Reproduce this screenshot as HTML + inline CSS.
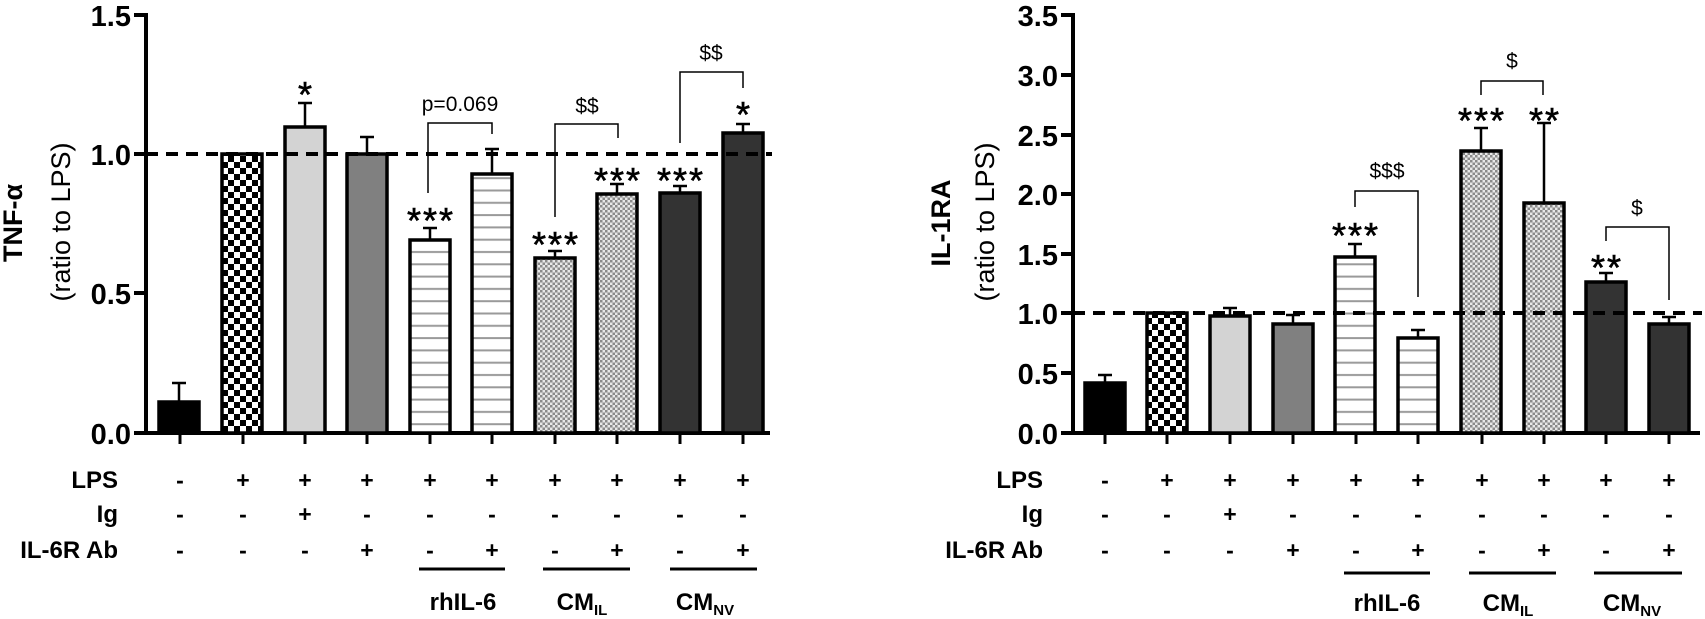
<!DOCTYPE html>
<html><head><meta charset="utf-8"><style>
html,body{margin:0;padding:0;background:#fff;}
svg{display:block;}
text{font-family:"Liberation Sans",Arial,sans-serif;}
</style></head><body>
<svg width="1705" height="619" viewBox="0 0 1705 619" xmlns="http://www.w3.org/2000/svg">
<defs>
<pattern id="chk" width="12" height="12" patternUnits="userSpaceOnUse">
<rect width="12" height="12" fill="#fff"/><rect width="6" height="6" fill="#000"/><rect x="6" y="6" width="6" height="6" fill="#000"/>
</pattern>
<pattern id="fine" width="5" height="5" patternUnits="userSpaceOnUse">
<rect width="5" height="5" fill="#e8e8e8"/><rect width="2.5" height="2.5" fill="#8a8a8a"/><rect x="2.5" y="2.5" width="2.5" height="2.5" fill="#8a8a8a"/>
</pattern>
<pattern id="hl" width="10" height="12.3" patternUnits="userSpaceOnUse">
<rect width="10" height="12.3" fill="#fff"/><rect y="5" width="10" height="2" fill="#9a9a9a"/>
</pattern>
</defs>

<!-- ============ LEFT CHART ============ -->
<g font-weight="bold" font-size="29" text-anchor="end" fill="#000">
<text x="131" y="26">1.5</text>
<text x="131" y="165">1.0</text>
<text x="131" y="304">0.5</text>
<text x="131" y="444">0.0</text>
</g>
<g stroke="#000" stroke-width="4">
<line x1="146" y1="13" x2="146" y2="435"/>
<line x1="134" y1="15" x2="146" y2="15"/>
<line x1="134" y1="154" x2="146" y2="154"/>
<line x1="134" y1="293" x2="146" y2="293"/>
<line x1="134" y1="433" x2="770" y2="433"/>
</g>
<text transform="translate(22,223) rotate(-90)" text-anchor="middle" font-weight="bold" font-size="27">TNF-α</text>
<text transform="translate(70,222) rotate(-90)" text-anchor="middle" font-size="27">(ratio to LPS)</text>

<g stroke="#000" stroke-width="3.5">
<rect x="159" y="402" width="40" height="31" fill="#000"/>
<rect x="222" y="154" width="40" height="279" fill="url(#chk)"/>
<rect x="285" y="127" width="40" height="306" fill="#d3d3d3"/>
<rect x="347" y="154" width="40" height="279" fill="#808080"/>
<rect x="410" y="240" width="40" height="193" fill="url(#hl)"/>
<rect x="472" y="174" width="40" height="259" fill="url(#hl)"/>
<rect x="535" y="258" width="40" height="175" fill="url(#fine)"/>
<rect x="597" y="194" width="40" height="239" fill="url(#fine)"/>
<rect x="660" y="193" width="40" height="240" fill="#333"/>
<rect x="723" y="133" width="40" height="300" fill="#333"/>
</g>
<g stroke="#000" stroke-width="2.5">
<path d="M179 402V383M172 383H186"/>
<path d="M305 127V103M298 103H312"/>
<path d="M367 154V137M360 137H374"/>
<path d="M430 240V228M423 228H437"/>
<path d="M492 174V149M485 149H499"/>
<path d="M555 258V251M548 251H562"/>
<path d="M617 194V184M610 184H624"/>
<path d="M680 193V186M673 186H687"/>
<path d="M743 133V124M736 124H750"/>
</g>
<line x1="146" y1="154" x2="772" y2="154" stroke="#000" stroke-width="4" stroke-dasharray="12,8"/>
<g fill="none" stroke="#000" stroke-width="1.5">
<path d="M428 193V123H492V134"/>
<path d="M555 217V124H618V138"/>
<path d="M680 143V72H743V88"/>
</g>
<g font-size="36" text-anchor="middle" letter-spacing="2" stroke="#000" stroke-width="0.6">
<text x="306" y="107">*</text>
<text x="431" y="233">***</text>
<text x="556" y="257">***</text>
<text x="618" y="193">***</text>
<text x="681" y="193">***</text>
<text x="744" y="127">*</text>
</g>
<g font-size="21" text-anchor="middle">
<text x="460" y="111">p=0.069</text>
<text x="587" y="113">$$</text>
<text x="711" y="60">$$</text>
</g>
<g stroke="#000" stroke-width="3">
<path d="M180 433v11M243 433v11M305 433v11M367 433v11M430 433v11M492 433v11M555 433v11M617 433v11M680 433v11M743 433v11"/>
</g>
<g font-weight="bold" font-size="24" text-anchor="end">
<text x="118" y="488">LPS</text>
<text x="118" y="522">Ig</text>
<text x="118" y="558">IL-6R Ab</text>
</g>
<g font-weight="bold" font-size="23" text-anchor="middle">
<text x="180" y="488">-</text><text x="243" y="488">+</text><text x="305" y="488">+</text><text x="367" y="488">+</text><text x="430" y="488">+</text><text x="492" y="488">+</text><text x="555" y="488">+</text><text x="617" y="488">+</text><text x="680" y="488">+</text><text x="743" y="488">+</text>
<text x="180" y="522">-</text><text x="243" y="522">-</text><text x="305" y="522">+</text><text x="367" y="522">-</text><text x="430" y="522">-</text><text x="492" y="522">-</text><text x="555" y="522">-</text><text x="617" y="522">-</text><text x="680" y="522">-</text><text x="743" y="522">-</text>
<text x="180" y="558">-</text><text x="243" y="558">-</text><text x="305" y="558">-</text><text x="367" y="558">+</text><text x="430" y="558">-</text><text x="492" y="558">+</text><text x="555" y="558">-</text><text x="617" y="558">+</text><text x="680" y="558">-</text><text x="743" y="558">+</text>
</g>
<g stroke="#000" stroke-width="3">
<line x1="419" y1="569" x2="505" y2="569"/>
<line x1="543" y1="569" x2="630" y2="569"/>
<line x1="670" y1="569" x2="757" y2="569"/>
</g>
<g font-weight="bold" font-size="24" text-anchor="middle">
<text x="463" y="610">rhIL-6</text>
<text x="582" y="610">CM<tspan font-size="15" dy="5">IL</tspan></text>
<text x="705" y="610">CM<tspan font-size="15" dy="5">NV</tspan></text>
</g>

<!-- ============ RIGHT CHART ============ -->
<g font-weight="bold" font-size="29" text-anchor="end">
<text x="1058" y="26">3.5</text>
<text x="1058" y="86">3.0</text>
<text x="1058" y="146">2.5</text>
<text x="1058" y="205">2.0</text>
<text x="1058" y="265">1.5</text>
<text x="1058" y="324">1.0</text>
<text x="1058" y="384">0.5</text>
<text x="1058" y="444">0.0</text>
</g>
<g stroke="#000" stroke-width="4">
<line x1="1073" y1="13" x2="1073" y2="435"/>
<path d="M1061 15H1073M1061 75H1073M1061 135H1073M1061 194H1073M1061 254H1073M1061 313H1073M1061 373H1073"/>
<line x1="1061" y1="433" x2="1700" y2="433"/>
</g>
<text transform="translate(950,223) rotate(-90)" text-anchor="middle" font-weight="bold" font-size="27">IL-1RA</text>
<text transform="translate(994,222) rotate(-90)" text-anchor="middle" font-size="27">(ratio to LPS)</text>

<g stroke="#000" stroke-width="3.5">
<rect x="1085" y="383" width="40" height="50" fill="#000"/>
<rect x="1147" y="313" width="40" height="120" fill="url(#chk)"/>
<rect x="1210" y="316" width="40" height="117" fill="#d3d3d3"/>
<rect x="1273" y="324" width="40" height="109" fill="#808080"/>
<rect x="1335" y="257" width="40" height="176" fill="url(#hl)"/>
<rect x="1398" y="338" width="40" height="95" fill="url(#hl)"/>
<rect x="1461" y="151" width="40" height="282" fill="url(#fine)"/>
<rect x="1524" y="203" width="40" height="230" fill="url(#fine)"/>
<rect x="1586" y="282" width="40" height="151" fill="#333"/>
<rect x="1649" y="324" width="40" height="109" fill="#333"/>
</g>
<g stroke="#000" stroke-width="2.5">
<path d="M1105 383V375M1098 375H1112"/>
<path d="M1230 316V308M1223 308H1237"/>
<path d="M1293 324V315M1286 315H1300"/>
<path d="M1355 257V244M1348 244H1362"/>
<path d="M1418 338V330M1411 330H1425"/>
<path d="M1481 151V128M1474 128H1488"/>
<path d="M1544 203V123M1537 123H1551"/>
<path d="M1606 282V273M1599 273H1613"/>
<path d="M1669 324V317M1662 317H1676"/>
</g>
<line x1="1073" y1="313" x2="1702" y2="313" stroke="#000" stroke-width="4" stroke-dasharray="12,8"/>
<g fill="none" stroke="#000" stroke-width="1.5">
<path d="M1355 207V191H1418V297"/>
<path d="M1481 95V81H1543V95"/>
<path d="M1606 241V227H1669V300"/>
</g>
<g font-size="36" text-anchor="middle" letter-spacing="2" stroke="#000" stroke-width="0.6">
<text x="1356" y="248">***</text>
<text x="1482" y="133">***</text>
<text x="1545" y="133">**</text>
<text x="1607" y="280">**</text>
</g>
<g font-size="21" text-anchor="middle">
<text x="1387" y="178">$$$</text>
<text x="1512" y="68">$</text>
<text x="1637" y="215">$</text>
</g>
<g stroke="#000" stroke-width="3">
<path d="M1105 433v11M1167 433v11M1230 433v11M1293 433v11M1356 433v11M1418 433v11M1482 433v11M1544 433v11M1606 433v11M1669 433v11"/>
</g>
<g font-weight="bold" font-size="24" text-anchor="end">
<text x="1043" y="488">LPS</text>
<text x="1043" y="522">Ig</text>
<text x="1043" y="558">IL-6R Ab</text>
</g>
<g font-weight="bold" font-size="23" text-anchor="middle">
<text x="1105" y="488">-</text><text x="1167" y="488">+</text><text x="1230" y="488">+</text><text x="1293" y="488">+</text><text x="1356" y="488">+</text><text x="1418" y="488">+</text><text x="1482" y="488">+</text><text x="1544" y="488">+</text><text x="1606" y="488">+</text><text x="1669" y="488">+</text>
<text x="1105" y="522">-</text><text x="1167" y="522">-</text><text x="1230" y="522">+</text><text x="1293" y="522">-</text><text x="1356" y="522">-</text><text x="1418" y="522">-</text><text x="1482" y="522">-</text><text x="1544" y="522">-</text><text x="1606" y="522">-</text><text x="1669" y="522">-</text>
<text x="1105" y="558">-</text><text x="1167" y="558">-</text><text x="1230" y="558">-</text><text x="1293" y="558">+</text><text x="1356" y="558">-</text><text x="1418" y="558">+</text><text x="1482" y="558">-</text><text x="1544" y="558">+</text><text x="1606" y="558">-</text><text x="1669" y="558">+</text>
</g>
<g stroke="#000" stroke-width="3">
<line x1="1344" y1="573" x2="1430" y2="573"/>
<line x1="1469" y1="573" x2="1556" y2="573"/>
<line x1="1594" y1="573" x2="1682" y2="573"/>
</g>
<g font-weight="bold" font-size="24" text-anchor="middle">
<text x="1387" y="611">rhIL-6</text>
<text x="1508" y="611">CM<tspan font-size="15" dy="5">IL</tspan></text>
<text x="1632" y="611">CM<tspan font-size="15" dy="5">NV</tspan></text>
</g>
</svg>
</body></html>
